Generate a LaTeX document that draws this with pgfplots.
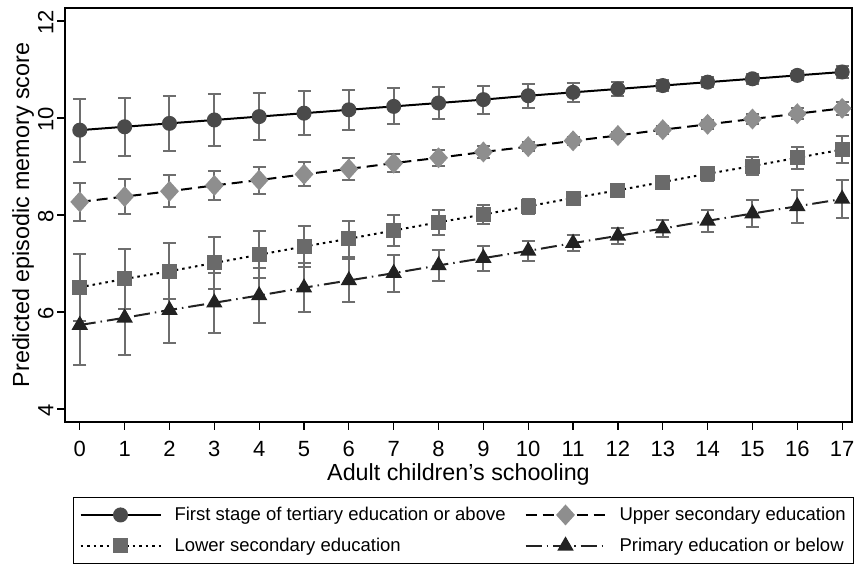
\documentclass[border=0pt]{standalone}
\usepackage{fontspec}
\setmainfont{Liberation Sans}
\usepackage{pgfplots}
\usepackage{pgfplotstable}
\pgfplotsset{compat=1.18}
\definecolor{errc}{HTML}{6E6E6E}
\definecolor{tercol}{HTML}{4A4A4A}
\definecolor{uppcol}{HTML}{8E8E8E}
\definecolor{lowcol}{HTML}{6A6A6A}
\definecolor{pricol}{HTML}{222222}

\pgfplotstableread{
x y e
0 9.75 0.65
1 9.82 0.60
2 9.89 0.57
3 9.96 0.53
4 10.03 0.49
5 10.10 0.45
6 10.17 0.41
7 10.24 0.37
8 10.31 0.33
9 10.38 0.29
10 10.46 0.25
11 10.53 0.20
12 10.60 0.15
13 10.67 0.12
14 10.74 0.10
15 10.81 0.10
16 10.88 0.10
17 10.95 0.12
}\tabTer
\pgfplotstableread{
x y e
0 8.27 0.39
1 8.38 0.36
2 8.49 0.33
3 8.61 0.30
4 8.72 0.28
5 8.84 0.25
6 8.95 0.22
7 9.07 0.19
8 9.18 0.16
9 9.30 0.13
10 9.41 0.10
11 9.53 0.08
12 9.64 0.08
13 9.76 0.08
14 9.87 0.09
15 9.98 0.10
16 10.09 0.12
17 10.20 0.13
}\tabUpp
\pgfplotstableread{
x y e
0 6.51 0.69
1 6.68 0.62
2 6.84 0.58
3 7.01 0.53
4 7.18 0.48
5 7.35 0.42
6 7.51 0.37
7 7.68 0.32
8 7.85 0.26
9 8.01 0.20
10 8.18 0.15
11 8.35 0.10
12 8.51 0.10
13 8.68 0.12
14 8.85 0.15
15 9.01 0.19
16 9.18 0.23
17 9.35 0.27
}\tabLow
\pgfplotstableread{
x y e
0 5.73 0.83
1 5.88 0.77
2 6.04 0.69
3 6.19 0.62
4 6.34 0.56
5 6.50 0.50
6 6.65 0.45
7 6.80 0.38
8 6.96 0.32
9 7.11 0.26
10 7.26 0.20
11 7.42 0.17
12 7.57 0.16
13 7.72 0.18
14 7.88 0.23
15 8.03 0.28
16 8.18 0.34
17 8.33 0.40
}\tabPri

\begin{document}
\begin{tikzpicture}
\begin{axis}[
  scale only axis, width=787pt, height=414pt,
  xmin=-0.33, xmax=17.22, ymin=3.73, ymax=12.27,
  xtick={0,...,17}, ytick={4,6,8,10,12},
  xtick pos=bottom, ytick pos=left,
  tick align=outside, major tick length=8pt,
  tick style={black, line width=1.2pt},
  axis line style={black, line width=1.5pt},
  /pgf/number format/assume math mode=true,
  ticklabel style={font=\fontsize{22}{26}\selectfont},
  xticklabel style={yshift=-8pt},
  yticklabel style={rotate=90, anchor=south, xshift=-1pt},
  xlabel={Adult children's schooling},
  ylabel={Predicted episodic memory score},
  label style={font=\fontsize{23.3}{27}\selectfont},
  xlabel style={yshift=0pt},
  ylabel style={yshift=-3pt},
  legend columns=2,
  legend cell align=left,
  legend style={at={(rel axis cs:0.0102,0)}, anchor=north west, yshift=-75pt,
    draw=black, line width=1pt, inner xsep=6pt, inner ysep=8pt,
    font=\fontsize{18.5}{22}\selectfont, column sep=11pt, row sep=12pt},
  legend image code/.code={\draw[mark repeat=2,mark phase=2,#1] plot coordinates {(0pt,0pt) (40pt,0pt) (80pt,0pt)};},
  every axis plot/.append style={line width=2pt},
  error bars/error bar style={errc, line width=2pt, solid},
  error bars/error mark options={rotate=90, mark size=6.5pt, errc, line width=2pt, solid},
]
\addplot[black, solid, mark=*, mark size=6.5pt, mark options={tercol, fill=tercol, solid},
  error bars/.cd, y dir=both, y explicit]
  table[x=x, y=y, y error=e] {\tabTer};
\addlegendentry{\makebox[337pt][l]{First stage of tertiary education or above}}
\addplot[black, dash pattern=on 11pt off 6pt, mark=diamond*, mark size=9pt, mark options={uppcol, fill=uppcol, solid, xscale=1.2},
  error bars/.cd, y dir=both, y explicit]
  table[x=x, y=y, y error=e] {\tabUpp};
\addlegendentry{Upper secondary education}
\addplot[black, dash pattern=on 2.5pt off 4pt, mark=square*, mark size=6.5pt, mark options={lowcol, fill=lowcol, solid},
  error bars/.cd, y dir=both, y explicit]
  table[x=x, y=y, y error=e] {\tabLow};
\addlegendentry{\makebox[337pt][l]{Lower secondary education}}
\addplot[pricol, dash pattern=on 16pt off 5pt on 1.5pt off 5pt, mark=triangle*, mark size=7.5pt, mark options={pricol, fill=pricol, solid},
  error bars/.cd, y dir=both, y explicit]
  table[x=x, y=y, y error=e] {\tabPri};
\addlegendentry{Primary education or below}
\end{axis}
\pgfresetboundingbox
\useasboundingbox (-65pt,-147pt) rectangle (790pt,422pt);
\end{tikzpicture}
\end{document}
